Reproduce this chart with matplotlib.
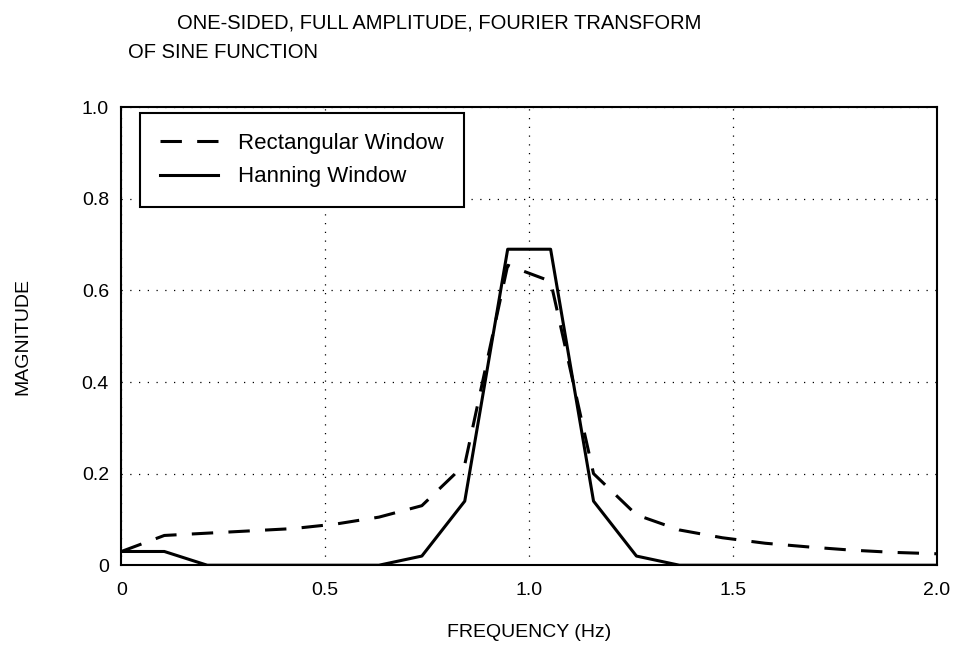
import numpy as np
import matplotlib
matplotlib.use('Agg')
import matplotlib.pyplot as plt

# bins are 2/19 Hz apart
freq = np.arange(20) * 2.0 / 19
rect_mag = [0.03, 0.065, 0.07, 0.075, 0.08, 0.09, 0.105, 0.13, 0.22, 0.655,
            0.62, 0.20, 0.11, 0.077, 0.06, 0.048, 0.04, 0.033, 0.028, 0.025]
hann_mag = [0.03, 0.03, 0.0, 0.0, 0.0, 0.0, 0.0, 0.02, 0.14, 0.69,
            0.69, 0.14, 0.02, 0.0, 0.0, 0.0, 0.0, 0.0, 0.0, 0.0]

x_ticks = [0, 0.5, 1.0, 1.5, 2.0]
x_labels = ['0', '0.5', '1.0', '1.5', '2.0']
y_ticks = [0, 0.2, 0.4, 0.6, 0.8, 1.0]
y_labels = ['0', '0.2', '0.4', '0.6', '0.8', '1.0']

plt.rcParams['font.family'] = ['Liberation Sans', 'DejaVu Sans']

fig = plt.figure(figsize=(9.56, 6.58), dpi=100)
ax = fig.add_axes([0.127, 0.141, 0.853, 0.696])

ax.plot(freq, rect_mag, color='black', lw=2.2, dashes=(7, 5), label='Rectangular Window')
ax.plot(freq, hann_mag, color='black', lw=2.2, label='Hanning Window')

ax.set_xlim(0, 2.0)
ax.set_ylim(0, 1.0)
ax.set_xticks(x_ticks)
ax.set_xticklabels(x_labels)
ax.set_yticks(y_ticks)
ax.set_yticklabels(y_labels)
ax.tick_params(length=0, labelsize=14)
ax.tick_params(axis='x', pad=12)
ax.tick_params(axis='y', pad=9)
ax.grid(True, color='black', linestyle=(0, (1, 6)), linewidth=0.9)
for s in ax.spines.values():
    s.set_linewidth(1.5)

ax.set_xlabel('FREQUENCY (Hz)', fontsize=14, labelpad=18)
ax.set_ylabel('MAGNITUDE', fontsize=14, labelpad=36)

leg = ax.legend(loc='upper left', bbox_to_anchor=(0.023, 0.987), fontsize=16,
                fancybox=False, framealpha=1, edgecolor='black',
                handlelength=2.6, handletextpad=0.9, borderpad=0.9,
                labelspacing=0.55, borderaxespad=0)
leg.get_frame().set_linewidth(1.5)

fig.text(0.185, 0.957, 'ONE-SIDED, FULL AMPLITUDE, FOURIER TRANSFORM',
         fontsize=14.5, va='baseline')
fig.text(0.134, 0.912, 'OF SINE FUNCTION', fontsize=14.5, va='baseline')

fig.savefig('out.png', dpi=100)
